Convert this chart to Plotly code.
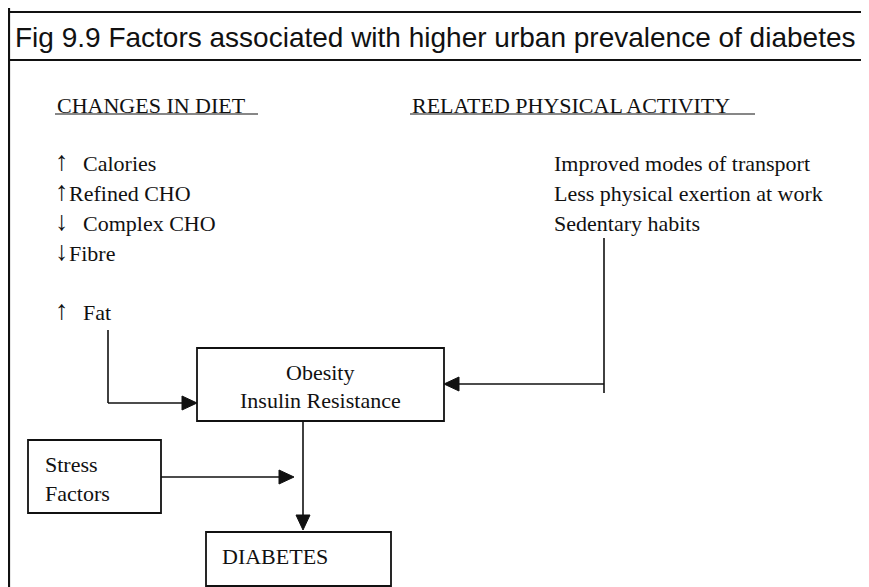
import plotly.graph_objects as go

W, H = 869, 587
OFF = 8  # page body margin in the browser

title_text = "Fig 9.9 Factors associated with higher urban prevalence of diabetes"
diet_heading = "CHANGES IN DIET"
activity_heading = "RELATED PHYSICAL ACTIVITY"
diet_arrows = ["↑", "↑", "↓", "↓", "↑"]
diet_items = ["Calories", "Refined CHO", "Complex CHO", "Fibre", "Fat"]
activity_items = ["Improved modes of transport", "Less physical exertion at work", "Sedentary habits"]
obesity_lines = ["Obesity", "Insulin Resistance"]
stress_lines = ["Stress", "Factors"]
outcome_label = "DIABETES"

# layout (pixel positions)
diet_item_y = [163, 193, 223, 253, 312]
diet_arrow_x = [53, 53, 53, 53, 53]
diet_item_x = [81, 67, 81, 67, 81]
activity_y = [163, 193, 223]

SERIF = "Liberation Serif, Times New Roman, serif"
SANS = "Liberation Sans, Arial, sans-serif"
INK = "#111111"

fig = go.Figure()
shapes = []
ann = []

def line(x0, y0, x1, y1, w=1.6, color=INK):
    shapes.append(dict(type="line", x0=x0, y0=y0, x1=x1, y1=y1, xref="x", yref="y",
                       line=dict(color=color, width=w)))

def rect(x0, y0, x1, y1, w=1.8):
    shapes.append(dict(type="rect", x0=x0, y0=y0, x1=x1, y1=y1, xref="x", yref="y",
                       line=dict(color=INK, width=w), fillcolor="rgba(0,0,0,0)"))

def head(tx, ty, direction, L=15, hw=7):
    if direction == "right":
        p = f"M {tx} {ty} L {tx-L} {ty-hw} L {tx-L} {ty+hw} Z"
    elif direction == "left":
        p = f"M {tx} {ty} L {tx+L} {ty-hw} L {tx+L} {ty+hw} Z"
    else:  # down
        p = f"M {tx} {ty} L {tx-hw} {ty-L} L {tx+hw} {ty-L} Z"
    shapes.append(dict(type="path", path=p, xref="x", yref="y",
                       fillcolor=INK, line=dict(color=INK, width=1)))

def text(x, y, s, size=22, font=SERIF, xanchor="left"):
    ann.append(dict(x=x, y=y, xref="x", yref="y", text=s, showarrow=False,
                    xanchor=xanchor, yanchor="middle",
                    font=dict(family=font, size=size, color=INK)))

# frame
line(9, 4, 869, 4, w=1.2, color="#555555")
line(9, 4, 9, 590, w=2.2)
line(9, 12, 868, 12, w=2.2)
line(867, 12, 867, 60, w=2.2)
line(9, 60, 868, 60, w=2.2)

# title
text(13, 37, title_text, size=28, font=SANS)

# headings
text(55, 105, diet_heading)
line(55, 114, 258, 114, w=1.2)
text(410, 105, activity_heading)
line(410, 114, 755, 114, w=1.2)

# diet items
for ax_, ix, y, a, s in zip(diet_arrow_x, diet_item_x, diet_item_y, diet_arrows, diet_items):
    text(ax_, y - 2, a, size=27)
    text(ix, y, s)

# activity items
for y, s in zip(activity_y, activity_items):
    text(552, y, s)

# obesity box
rect(197, 348, 444, 421)
text(320, 372, obesity_lines[0], xanchor="center")
text(320, 400, obesity_lines[1], xanchor="center")

# stress box
rect(28, 440, 161, 513)
text(43, 464, stress_lines[0])
text(43, 493, stress_lines[1])

# diabetes box
rect(206, 532, 391, 586)
text(220, 556, outcome_label)

# connectors
line(108, 330, 108, 403)
line(108, 403, 190, 403)
head(197, 403, "right")

line(604, 238, 604, 393)
line(604, 384, 450, 384)
head(444, 384, "left")

line(303, 421, 303, 522)
head(303, 530, "down")

line(161, 477, 288, 477)
head(294, 477, "right")

fig.update_layout(
    width=W, height=H,
    margin=dict(l=0, r=0, t=0, b=0),
    paper_bgcolor="white", plot_bgcolor="white",
    xaxis=dict(range=[OFF, W + OFF], visible=False, fixedrange=True),
    yaxis=dict(range=[H + OFF, OFF], visible=False, fixedrange=True),
    shapes=shapes, annotations=ann, showlegend=False,
)
fig.write_html("out.html")
